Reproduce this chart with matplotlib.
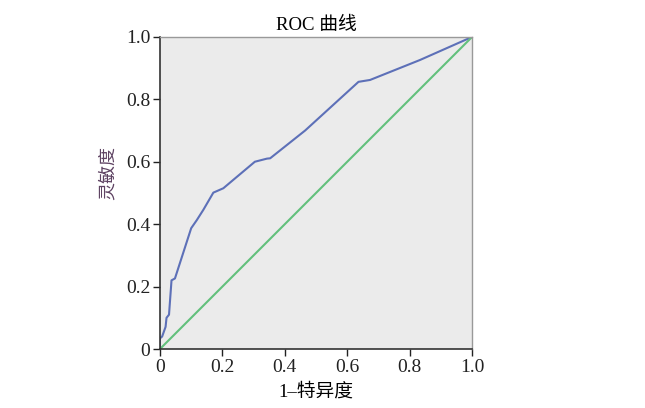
import matplotlib
matplotlib.use("Agg")
from matplotlib import pyplot as plt

plt.rcParams['font.family'] = ['Liberation Serif', 'Noto Sans CJK SC', 'DejaVu Sans']

# ROC curve points
fpr = [0.0, 0.0, 0.007, 0.018, 0.021, 0.029, 0.037, 0.048, 0.10, 0.118, 0.139,
       0.171, 0.203, 0.235, 0.304, 0.343, 0.353, 0.465, 0.636, 0.673, 0.833, 1.0]
tpr = [0.0, 0.034, 0.04, 0.071, 0.10, 0.11, 0.22, 0.226, 0.387, 0.413, 0.446,
       0.501, 0.515, 0.542, 0.60, 0.61, 0.611, 0.70, 0.856, 0.862, 0.926, 1.0]
ref = [0.0, 1.0]
ticks = [0, 0.2, 0.4, 0.6, 0.8, 1.0]
tick_labels = ["0", "0.2", "0.4", "0.6", "0.8", "1.0"]

fig = plt.figure(figsize=(6.45, 4.08), dpi=100)
ax = fig.add_axes([0.248, 0.1446, 0.484, 0.765])
ax.set_facecolor("#ebebeb")

ax.plot(fpr, tpr, color="#5d70b8", lw=1.5)
ax.plot(ref, ref, color="#62c07c", lw=1.5)

ax.set_xlim(0, 1)
ax.set_ylim(0, 1)
ax.set_xticks(ticks)
ax.set_xticklabels(tick_labels)
ax.set_yticks(ticks)
ax.set_yticklabels(tick_labels)
ax.tick_params(direction="out", length=5, width=1, labelsize=14, colors="#222222", pad=2)

for s in ["left", "bottom"]:
    ax.spines[s].set_color("#333333")
    ax.spines[s].set_linewidth(1.2)
for s in ["top", "right"]:
    ax.spines[s].set_color("#999999")
    ax.spines[s].set_linewidth(1.0)

ax.set_title("ROC 曲线", fontsize=13.5, pad=5)
ax.set_xlabel("1\u2013特异度", fontsize=13.5, labelpad=5)
ax.set_ylabel("灵敏度", fontsize=13, color="#5e4262")
ax.yaxis.set_label_coords(-0.14, 0.565)

fig.savefig("out.png", dpi=100)
